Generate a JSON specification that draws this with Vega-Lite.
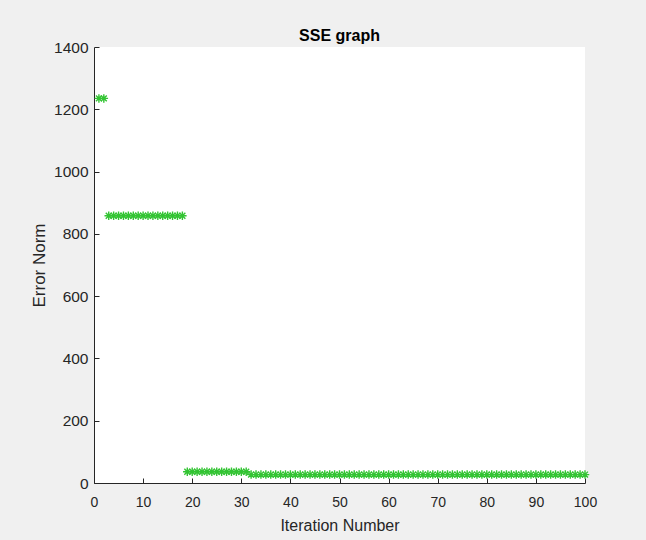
{
  "$schema": "https://vega.github.io/schema/vega-lite/v6.json",
  "autosize": "none",
  "width": 491,
  "height": 436,
  "padding": {"left": 94, "top": 47, "right": 61, "bottom": 57},
  "background": "#f0f0f0",
  "title": {"text": "SSE graph", "font": "Liberation Sans", "fontSize": 16, "fontWeight": "bold", "color": "#000000", "offset": -4, "anchor": "middle"},
  "config": {
    "view": {"fill": "#ffffff", "stroke": null},
    "axis": {"grid": false, "domainColor": "#262626", "tickColor": "#262626", "labelColor": "#262626", "titleColor": "#262626", "labelFont": "Liberation Sans", "titleFont": "Liberation Sans", "titleFontWeight": "normal", "tickSize": -5, "format": "d", "labelFlush": false}
  },
  "data": {"values": [
    {"iter": 1, "err": 1235}, {"iter": 2, "err": 1235},
    {"iter": 3, "err": 858}, {"iter": 4, "err": 858}, {"iter": 5, "err": 858}, {"iter": 6, "err": 858}, {"iter": 7, "err": 858}, {"iter": 8, "err": 858}, {"iter": 9, "err": 858}, {"iter": 10, "err": 858}, {"iter": 11, "err": 858}, {"iter": 12, "err": 858}, {"iter": 13, "err": 858}, {"iter": 14, "err": 858}, {"iter": 15, "err": 858}, {"iter": 16, "err": 858}, {"iter": 17, "err": 858}, {"iter": 18, "err": 858},
    {"iter": 19, "err": 36}, {"iter": 20, "err": 36}, {"iter": 21, "err": 36}, {"iter": 22, "err": 36}, {"iter": 23, "err": 36}, {"iter": 24, "err": 36}, {"iter": 25, "err": 36}, {"iter": 26, "err": 36}, {"iter": 27, "err": 36}, {"iter": 28, "err": 36}, {"iter": 29, "err": 36}, {"iter": 30, "err": 36}, {"iter": 31, "err": 36},
    {"iter": 32, "err": 27}, {"iter": 33, "err": 27}, {"iter": 34, "err": 27}, {"iter": 35, "err": 27}, {"iter": 36, "err": 27}, {"iter": 37, "err": 27}, {"iter": 38, "err": 27}, {"iter": 39, "err": 27}, {"iter": 40, "err": 27},
    {"iter": 41, "err": 27}, {"iter": 42, "err": 27}, {"iter": 43, "err": 27}, {"iter": 44, "err": 27}, {"iter": 45, "err": 27}, {"iter": 46, "err": 27}, {"iter": 47, "err": 27}, {"iter": 48, "err": 27}, {"iter": 49, "err": 27}, {"iter": 50, "err": 27},
    {"iter": 51, "err": 27}, {"iter": 52, "err": 27}, {"iter": 53, "err": 27}, {"iter": 54, "err": 27}, {"iter": 55, "err": 27}, {"iter": 56, "err": 27}, {"iter": 57, "err": 27}, {"iter": 58, "err": 27}, {"iter": 59, "err": 27}, {"iter": 60, "err": 27},
    {"iter": 61, "err": 27}, {"iter": 62, "err": 27}, {"iter": 63, "err": 27}, {"iter": 64, "err": 27}, {"iter": 65, "err": 27}, {"iter": 66, "err": 27}, {"iter": 67, "err": 27}, {"iter": 68, "err": 27}, {"iter": 69, "err": 27}, {"iter": 70, "err": 27},
    {"iter": 71, "err": 27}, {"iter": 72, "err": 27}, {"iter": 73, "err": 27}, {"iter": 74, "err": 27}, {"iter": 75, "err": 27}, {"iter": 76, "err": 27}, {"iter": 77, "err": 27}, {"iter": 78, "err": 27}, {"iter": 79, "err": 27}, {"iter": 80, "err": 27},
    {"iter": 81, "err": 27}, {"iter": 82, "err": 27}, {"iter": 83, "err": 27}, {"iter": 84, "err": 27}, {"iter": 85, "err": 27}, {"iter": 86, "err": 27}, {"iter": 87, "err": 27}, {"iter": 88, "err": 27}, {"iter": 89, "err": 27}, {"iter": 90, "err": 27},
    {"iter": 91, "err": 27}, {"iter": 92, "err": 27}, {"iter": 93, "err": 27}, {"iter": 94, "err": 27}, {"iter": 95, "err": 27}, {"iter": 96, "err": 27}, {"iter": 97, "err": 27}, {"iter": 98, "err": 27}, {"iter": 99, "err": 27}, {"iter": 100, "err": 27}
  ]},
  "mark": {"type": "point", "shape": "M-1,0L1,0M0,-1L0,1M-0.7,-0.7L0.7,0.7M-0.7,0.7L0.7,-0.7", "filled": false, "stroke": "#33c433", "strokeWidth": 1.4, "size": 72, "opacity": 1},
  "encoding": {
    "x": {"field": "iter", "type": "quantitative", "title": "Iteration Number", "scale": {"domain": [0, 100], "nice": false}, "axis": {"values": [0, 10, 20, 30, 40, 50, 60, 70, 80, 90, 100], "labelFontSize": 14, "titleFontSize": 16, "labelPadding": 17, "titlePadding": 8}},
    "y": {"field": "err", "type": "quantitative", "title": "Error Norm", "scale": {"domain": [0, 1400], "nice": false}, "axis": {"values": [0, 200, 400, 600, 800, 1000, 1200, 1400], "labelFontSize": 15.5, "titleFontSize": 17, "labelPadding": 11, "titlePadding": 5}}
  }
}
